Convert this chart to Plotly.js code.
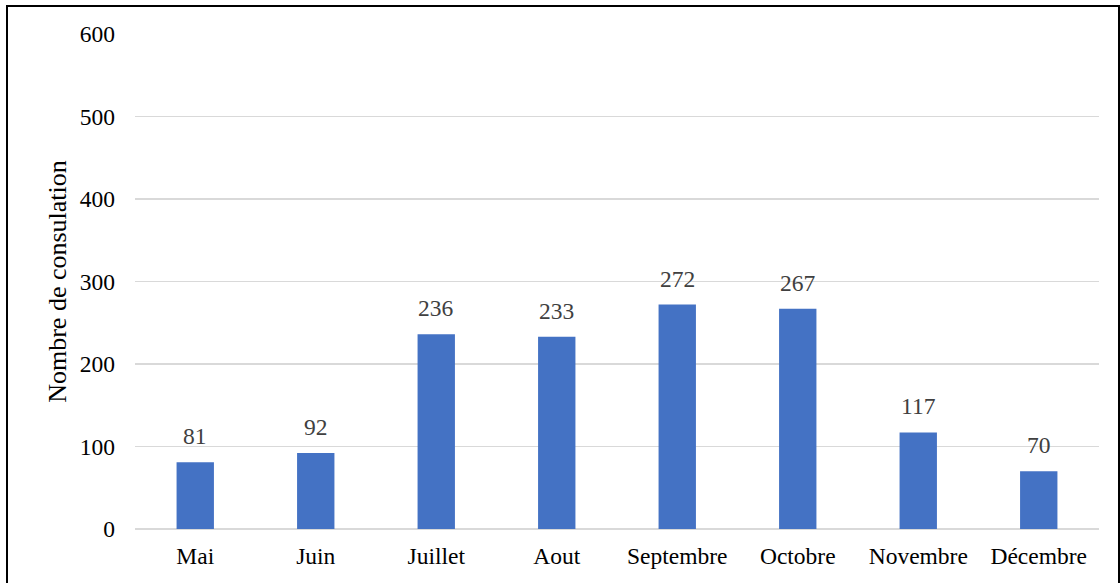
<!DOCTYPE html>
<html><head><meta charset="utf-8">
<script src="https://cdn.plot.ly/plotly-3.0.1.min.js"></script>
<style>
html,body{margin:0;padding:0;background:#fff;}
#wrap{position:relative;width:1120px;height:583px;overflow:hidden;}
#frame{position:absolute;left:6px;top:5px;width:1110px;height:600px;border:2px solid #000;pointer-events:none;}
</style>
</head><body>
<div id="wrap"><div id="chart" style="width:1120px;height:583px;"></div><div id="frame"></div></div>
<script>
const months = ["Mai","Juin","Juillet","Aout","Septembre","Octobre","Novembre","Décembre"];
const consultations = [81,92,236,233,272,267,117,70];
const yTicks = [0,100,200,300,400,500,600];

const trace = {
  type:'bar', x: months, y: consultations,
  marker:{color:'#4472C4'}, width:0.31, hoverinfo:'x+y'
};
const annotations = months.map((m,i)=>({
  x:m, y:consultations[i], xref:'x', yref:'y', text:String(consultations[i]),
  showarrow:false, yanchor:'bottom', yshift:11,
  font:{family:'Liberation Serif, Times New Roman, serif', size:23.5, color:'#404040'}
}));
const layout = {
  width:1120, height:583,
  margin:{l:135,r:21,t:34,b:54},
  paper_bgcolor:'#fff', plot_bgcolor:'#fff',
  font:{family:'Liberation Serif, Times New Roman, serif', size:23.5, color:'#000'},
  showlegend:false,
  xaxis:{type:'category', showgrid:false, zeroline:false, showline:false, ticks:'',
    ticklabelstandoff:10, tickfont:{size:23.5, color:'#000'}},
  yaxis:{range:[0,600], tickvals:yTicks, showgrid:true, gridcolor:'#d9d9d9', gridwidth:1.5,
    zeroline:true, zerolinecolor:'#d9d9d9', zerolinewidth:1.5, showline:false, ticks:'',
    ticklabelstandoff:19, tickfont:{size:23.5, color:'#000'},
    title:{text:'Nombre de consulation', font:{size:26, color:'#000'}, standoff:5}},
  annotations: annotations
};
Plotly.newPlot('chart',[trace],layout,{displayModeBar:false, staticPlot:true});
</script>
</body></html>
